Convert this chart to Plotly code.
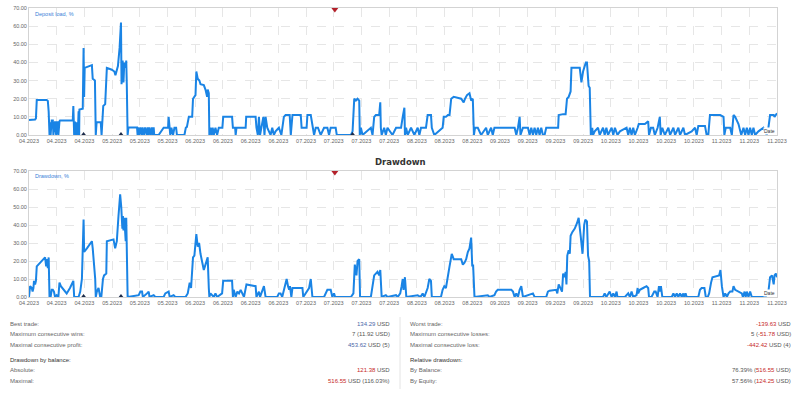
import plotly.graph_objects as go

# ---------------- data ----------------
month_labels = (["04.2023"] * 3 + ["05.2023"] * 3 + ["06.2023"] * 4 + ["07.2023"] * 4 +
                ["08.2023"] * 3 + ["09.2023"] * 4 + ["10.2023"] * 4 + ["11.2023"] * 3)
month_ticks = [i * 10 for i in range(len(month_labels))]
pct_ticks = [0, 10, 20, 30, 40, 50, 60, 70]
pct_labels = ["%.2f" % v for v in pct_ticks]

load_x = [
    0, 2.2, 2.5, 2.8, 6.4, 6.8, 7.1, 7.4, 7.6, 7.8,
    8.2, 8.6, 8.8, 9.4, 9.8, 10.0, 10.3, 10.6, 11.0, 11.2,
    15.8, 16.0, 16.3, 16.6, 17.0, 17.2, 17.6, 17.9, 18.1, 18.2,
    19.4, 19.7, 19.9, 20.1, 22.7, 23.0, 23.8, 24.1, 24.4, 25.9,
    26.2, 26.4, 26.8, 27.5, 28.1, 29.9, 30.8, 31.2, 31.6, 32.1,
    32.7, 33.2, 33.4, 33.8, 34.1, 34.4, 34.9, 35.1, 35.3, 35.6,
    35.9, 39.0, 39.2, 39.4, 39.9, 40.2, 40.8, 41.0, 41.6, 41.9,
    42.6, 42.8, 43.2, 43.4, 44.0, 44.3, 44.8, 45.0, 45.2, 46.8,
    48.6, 50.2, 50.4, 50.7, 51.0, 51.4, 52.0, 52.5, 53.1, 53.4,
    56.1, 56.6, 57.0, 57.7, 58.9, 59.2, 60.1, 60.4, 60.9, 61.5,
    61.9, 63.1, 63.7, 64.3, 64.5, 64.9, 65.1, 65.5, 65.9, 66.3,
    66.7, 67.3, 67.9, 68.5, 69.8, 70.1, 73.3, 73.6, 74.4, 74.6,
    74.9, 78.2, 78.4, 81.8, 82.1, 82.6, 83.0, 83.4, 83.8, 84.6,
    85.0, 85.4, 86.0, 87.2, 87.8, 88.4, 89.0, 90.2, 91.1, 91.4,
    92.0, 92.6, 94.1, 94.5, 95.1, 98.1, 98.4, 100.2, 100.5, 101.7,
    102.3, 102.9, 103.5, 104.3, 105.3, 106.5, 107.7, 108.3, 108.9, 110.7,
    111.1, 116.2, 116.8, 117.4, 118.0, 118.6, 119.2, 119.4, 119.8, 120.4,
    123.4, 124.0, 124.6, 125.2, 126.4, 126.8, 127.0, 127.3, 128.2, 128.8,
    129.4, 131.2, 132.5, 134.3, 134.9, 135.5, 135.7, 136.1, 136.7, 137.9,
    139.1, 140.3, 140.9, 141.5, 143.3, 143.9, 145.1, 145.4, 146.3, 149.3,
    149.7, 150.5, 151.2, 151.8, 152.4, 153.3, 156.0, 156.9, 157.4, 158.1,
    159.0, 159.6, 160.2, 160.6, 161.0, 162.0, 163.2, 165.0, 165.6, 166.8,
    167.4, 168.0, 175.3, 175.9, 176.5, 177.1, 177.4, 178.3, 180.1, 180.7,
    181.3, 181.9, 182.5, 183.1, 183.7, 184.3, 184.9, 185.5, 186.1, 186.7,
    191.0, 191.2, 192.8, 193.7, 194.2, 194.8, 195.5, 195.8, 198.8, 199.4,
    200.0, 201.0, 201.4, 201.8, 202.0, 202.4, 202.8, 203.3, 203.6, 204.2,
    205.4, 206.0, 207.2, 207.8, 208.4, 209.0, 210.3, 210.9, 211.5, 212.4,
    213.3, 215.7, 216.3, 216.9, 217.5, 218.1, 218.7, 219.7, 220.1, 222.3,
    223.5, 223.8, 224.5, 225.3, 225.9, 226.9, 227.7, 228.0, 228.6, 229.5,
    230.8, 231.4, 232.6, 233.2, 234.4, 235.0, 236.2, 236.8, 239.2, 240.4,
    241.0, 241.6, 244.0, 244.6, 245.2, 245.8, 249.5, 250.7, 251.0, 251.5,
    253.1, 253.7, 254.3, 254.9, 256.1, 257.1, 257.9, 258.5, 259.1, 259.7,
    260.3, 260.9, 261.5, 262.1, 263.3, 265.1, 266.3, 266.9, 267.5, 268.8,
    269.1, 270,
]
load_y = [
    8.3, 8.5, 9.2, 19.3, 19.3, 18.8, 12.9, 0, 7, 0,
    8, 8, 0, 7.5, 0, 7, 7, 0, 7.5, 8,
    8, 16, 0, 7.4, 0, 7, 0, 13, 0, 14,
    14.5, 48, 21, 37, 38.5, 31, 30, 0, 7, 7,
    0, 7, 16, 17, 37, 36, 35, 33, 36, 38,
    48, 62, 28, 41, 29, 40, 37, 41, 28, 0,
    4.2, 4.2, 0, 4.2, 0, 4.2, 0, 4.2, 0, 4.2,
    0, 4.2, 0, 4.2, 0, 4.2, 0, 4.2, 0, 0,
    4, 4, 10, 4, 0, 4, 0, 4, 4, 0,
    0, 4, 4.5, 10, 10, 20, 22, 35, 31, 30,
    28, 27.5, 25, 21, 25, 23, 0, 4, 0, 4,
    0, 4, 0, 4, 4, 10, 10, 4, 4, 0,
    4, 4, 10, 10, 4, 0, 10, 0, 4, 10,
    0, 10, 4, 0, 4, 0, 2, 4, 0, 4,
    10, 11, 11, 0, 11, 11, 4, 4, 11, 11,
    4, 0, 4, 4, 0, 4, 4, 0, 4, 4,
    0, 0, 2, 20, 19, 20, 19, 0, 4, 0,
    4, 0, 10, 11, 11, 18, 4, 0, 4, 0,
    4, 0, 4, 4, 10, 15, 0, 4, 0, 4,
    0, 4, 0, 4, 4, 11, 11, 4, 0, 4,
    10, 10, 11, 11, 20, 21, 20, 18, 20, 22,
    23, 19, 20, 0, 4, 4, 0, 4, 0, 4,
    0, 4, 4, 0, 4, 10, 0, 4, 4, 0,
    4, 0, 4, 0, 4, 0, 4, 0, 0, 4,
    4, 11, 11.5, 11.5, 20, 21, 24, 37, 37, 29,
    35, 40, 40, 29, 27, 26, 0, 4, 0, 2,
    4, 0, 4, 0, 4, 0, 4, 0, 4, 0,
    2, 4, 0, 4, 0, 4, 0, 4, 6, 6,
    7.5, 0, 4, 4, 0, 4, 10, 0, 4, 0,
    4, 0, 4, 0, 4, 0, 4, 0, 2, 4,
    0, 5, 5, 0, 0, 11, 11, 10, 0, 4,
    4, 0, 11, 10, 6, 0, 4, 0, 4, 0,
    4, 0, 4, 0, 2, 4, 0, 4, 11, 11,
    10, 12,
]

dd_x = [
    0, 0.4, 1.0, 1.3, 1.6, 1.8, 2.2, 2.5, 2.8, 4.0,
    5.2, 5.8, 6.2, 6.4, 6.8, 7.1, 7.4, 7.6, 7.8, 8.2,
    8.6, 9.0, 9.4, 10.0, 10.6, 11.0, 11.5, 12.4, 13.6, 14.8,
    16.0, 16.3, 17.9, 18.5, 19.1, 19.7, 19.9, 20.9, 22.7, 23.0,
    23.9, 24.1, 24.5, 25.1, 25.7, 26.1, 26.7, 27.1, 27.9, 28.1,
    30.5, 31.1, 31.7, 32.3, 32.9, 33.3, 33.7, 33.9, 34.1, 34.4,
    34.6, 34.9, 35.1, 35.3, 35.6, 39.6, 40.2, 40.8, 41.1, 42.6,
    43.2, 43.5, 45.0, 45.6, 48.6, 49.2, 50.4, 50.8, 52.2, 52.8,
    56.5, 57.3, 58.0, 58.5, 59.2, 59.7, 60.4, 60.9, 61.4, 61.9,
    62.5, 63.1, 63.7, 64.5, 64.9, 65.1, 65.5, 66.7, 67.3, 67.9,
    69.7, 70.1, 73.3, 73.6, 73.9, 74.6, 75.2, 75.8, 76.4, 77.0,
    77.6, 78.5, 81.8, 82.1, 83.0, 83.4, 84.8, 85.4, 89.6, 90.2,
    90.8, 91.4, 92.3, 93.0, 93.5, 93.9, 94.2, 94.7, 95.1, 98.7,
    99.0, 99.9, 101.1, 101.7, 102.3, 106.5, 107.1, 107.7, 108.9, 109.5,
    110.1, 110.5, 116.2, 117.1, 117.6, 118.2, 118.6, 119.2, 119.5, 123.4,
    124.6, 125.8, 126.4, 126.8, 127.3, 128.8, 129.4, 132.5, 133.1, 134.0,
    134.5, 134.9, 135.2, 135.7, 136.2, 140.3, 141.3, 142.1, 142.7, 143.3,
    143.9, 144.5, 145.1, 145.4, 148.7, 149.3, 149.9, 150.5, 151.2, 151.8,
    152.6, 153.3, 156.0, 156.6, 157.2, 157.8, 158.4, 159.0, 159.6, 160.0,
    160.3, 160.8, 165.6, 166.2, 168.0, 168.6, 169.2, 174.1, 174.7, 175.3,
    175.9, 176.5, 177.1, 177.7, 178.3, 181.9, 182.5, 186.7, 187.3, 187.9,
    190.3, 190.7, 191.2, 191.9, 192.4, 192.8, 193.4, 193.7, 194.0, 194.3,
    194.8, 195.2, 195.5, 196.1, 197.0, 197.8, 198.4, 199.2, 199.8, 200.4,
    200.8, 201.4, 201.8, 202.2, 202.5, 207.2, 207.8, 208.4, 209.6, 210.3,
    210.9, 211.5, 212.1, 212.4, 215.1, 216.3, 216.9, 217.5, 218.1, 219.3,
    219.7, 219.9, 220.5, 221.7, 222.9, 223.5, 223.8, 224.7, 225.7, 226.2,
    226.9, 227.4, 227.7, 228.1, 228.6, 232.0, 232.6, 233.2, 233.8, 234.4,
    235.0, 235.6, 236.2, 236.5, 237.0, 237.4, 241.6, 242.2, 242.8, 243.8,
    244.3, 245.0, 245.5, 246.2, 246.7, 249.1, 249.6, 250.1, 250.7, 251.3,
    251.9, 252.5, 253.1, 253.9, 254.3, 254.9, 256.1, 257.3, 257.7, 258.3,
    258.7, 259.1, 259.7, 260.3, 260.9, 265.7, 266.3, 266.9, 267.5, 268.2,
    268.8, 269.1, 269.6, 270,
]
dd_y = [
    0, 6, 5, 3, 5, 9, 7, 9, 17, 19,
    21, 22, 17, 21, 16, 22, 0, 1, 0, 4,
    4, 3, 0, 1, 0, 8, 6, 4, 2, 5,
    9, 0, 0, 3, 10, 43, 25, 27, 31, 27,
    10, 0, 3, 5, 0, 0, 10, 12, 13, 31,
    32, 27, 31, 45, 57, 50, 38, 45, 37, 44,
    33, 31, 44, 10, 0, 1, 3, 3, 0, 2,
    3, 0, 1, 0, 0, 2, 3, 0, 1, 0,
    0, 2, 8, 5, 22, 23, 35, 28, 30, 24,
    20, 15, 18, 22, 5, 0, 2, 0, 2, 0,
    2, 9, 9, 0, 4, 0, 3, 2, 4, 2,
    0, 7, 6, 0, 3, 0, 6, 0, 0, 2,
    2, 0, 6, 10, 6, 4, 6, 0, 5, 5,
    0, 2, 5, 10, 0, 0, 2, 4, 4, 0,
    2, 0, 0, 2, 18, 12, 20, 21, 0, 0,
    12, 14, 12, 15, 0, 1, 0, 1, 0, 2,
    6, 10, 4, 11, 0, 1, 0, 2, 0, 3,
    5, 10, 9, 0, 0, 4, 6, 5, 13, 17,
    24, 21, 21, 18, 19, 21, 25, 27, 33, 17,
    18, 0, 1, 0, 1, 3, 4, 4, 3, 0,
    2, 0, 4, 6, 0, 2, 0, 0, 3, 3.5,
    4, 2, 7, 5, 3, 13, 11, 14, 7, 23,
    26, 24, 34, 36, 38, 41, 44, 33, 24, 40,
    43, 42, 23, 20, 0, 0, 2, 0, 3, 0,
    2, 0, 3, 0, 0, 2, 0, 3, 0, 1,
    5, 2, 4, 5, 6, 5, 0, 0, 3, 3,
    0, 6, 3, 6, 0, 0, 2, 0, 2, 0,
    2, 0, 2, 0, 2, 0, 0, 4, 5, 5,
    0, 0, 2, 8, 11, 12, 15, 6, 0, 2,
    0, 2, 3, 3, 6, 4, 3, 2, 0, 3,
    0, 3, 0, 3, 0, 0, 1, 3, 11, 12,
    7, 12, 13, 11,
]

event_x = [110.4]          # red marker on top border
deal_x_top = [19.7, 33.2, 116.8]
deal_x_bottom = [19.7, 33.2]

stats_left = [
    ("Best trade:", '<span style="color:#4a67a8">134.29</span> USD'),
    ("Maximum consecutive wins:", "7 (11.92 USD)"),
    ("Maximal consecutive profit:", '<span style="color:#4a67a8">453.62</span> USD (5)'),
    ("<b>Drawdown by balance:</b>", ""),
    ("Absolute:", '<span style="color:#c62828">121.38</span> USD'),
    ("Maximal:", '<span style="color:#c62828">516.55</span> USD (116.03%)'),
]
stats_right = [
    ("Worst trade:", '<span style="color:#c62828">-139.63</span> USD'),
    ("Maximum consecutive losses:", '5 (<span style="color:#c62828">-51.78</span> USD)'),
    ("Maximal consecutive loss:", '<span style="color:#c62828">-442.42</span> USD (4)'),
    ("<b>Relative drawdown:</b>", ""),
    ("By Balance:", '76.39% (<span style="color:#c62828">516.55</span> USD)'),
    ("By Equity:", '57.56% (<span style="color:#c62828">124.25</span> USD)'),
]

if len(load_x) != len(load_y) or len(dd_x) != len(dd_y):
    raise SystemExit("length mismatch %d %d %d %d" % (len(load_x), len(load_y), len(dd_x), len(dd_y)))

# ---------------- layout helpers ----------------
W, H = 800, 394
BLUE = "#1a84e5"
GRID = "#e6e6e6"
FONT = "Liberation Sans, Arial, sans-serif"


def fx(p):
    return p / W


def fy(p):
    return 1 - p / H


fig = go.Figure()

fig.add_trace(go.Scatter(x=load_x, y=load_y, mode="lines", xaxis="x", yaxis="y",
                         line=dict(color=BLUE, width=2), hoverinfo="skip"))
fig.add_trace(go.Scatter(x=dd_x, y=dd_y, mode="lines", xaxis="x2", yaxis="y2",
                         line=dict(color=BLUE, width=2), hoverinfo="skip"))

# markers
fig.add_trace(go.Scatter(x=event_x, y=[69.2], mode="markers", xaxis="x", yaxis="y", cliponaxis=False,
                         marker=dict(symbol="triangle-down", size=6, color="#b3202a")))
fig.add_trace(go.Scatter(x=event_x, y=[69.2], mode="markers", xaxis="x2", yaxis="y2", cliponaxis=False,
                         marker=dict(symbol="triangle-down", size=6, color="#b3202a")))
fig.add_trace(go.Scatter(x=deal_x_top, y=[0.6] * len(deal_x_top), mode="markers", xaxis="x", yaxis="y",
                         cliponaxis=False, marker=dict(symbol="triangle-up", size=4, color="#1c2b4a")))
fig.add_trace(go.Scatter(x=deal_x_bottom, y=[0.6] * len(deal_x_bottom), mode="markers", xaxis="x2",
                         yaxis="y2", cliponaxis=False,
                         marker=dict(symbol="triangle-up", size=4, color="#1c2b4a")))

xcommon = dict(range=[0, 270], tickmode="array", tickvals=month_ticks, ticktext=month_labels,
               showgrid=True, gridcolor=GRID, griddash="dash", gridwidth=1,
               showline=True, linecolor="#d3d3d3", linewidth=1, mirror=True, automargin=False,
               ticks="", zeroline=False, tickfont=dict(size=5.5, color="#666", family=FONT),
               fixedrange=True)
ycommon = dict(range=[0, 70], tickmode="array", tickvals=pct_ticks, ticktext=pct_labels,
               showgrid=True, gridcolor=GRID, griddash="dash", gridwidth=1,
               showline=True, linecolor="#d3d3d3", linewidth=1, mirror=True, automargin=False,
               ticks="", zeroline=False, tickfont=dict(size=5.5, color="#666", family=FONT),
               fixedrange=True)

fig.update_layout(
    width=W, height=H, margin=dict(l=0, r=0, t=0, b=0, pad=0), autosize=False,
    paper_bgcolor="white", plot_bgcolor="white", showlegend=False,
    font=dict(family=FONT, size=6, color="#555"),
    xaxis=dict(domain=[fx(29), fx(777)], anchor="y", **xcommon),
    yaxis=dict(domain=[fy(135), fy(8)], anchor="x", **ycommon),
    xaxis2=dict(domain=[fx(29), fx(777)], anchor="y2", **xcommon),
    yaxis2=dict(domain=[fy(297), fy(171)], anchor="x2", **ycommon),
)

ann = []
# series captions
ann.append(dict(text="Deposit load, %", x=fx(33), y=fy(14), xref="paper", yref="paper",
                xanchor="left", yanchor="middle", showarrow=False,
                font=dict(size=5.5, color="#3a7fd8", family=FONT)))
ann.append(dict(text="Drawdown, %", x=fx(33), y=fy(176), xref="paper", yref="paper",
                xanchor="left", yanchor="middle", showarrow=False,
                font=dict(size=5.5, color="#3a7fd8", family=FONT)))
for yy in (131, 293):
    ann.append(dict(text="Date", x=fx(776), y=fy(yy), xref="paper", yref="paper",
                    xanchor="right", yanchor="middle", showarrow=False, bgcolor="white",
                    borderpad=0, font=dict(size=5, color="#333", family=FONT)))
# title
ann.append(dict(text="<b>Drawdown</b>", x=fx(400), y=fy(162), xref="paper", yref="paper",
                xanchor="center", yanchor="middle", showarrow=False,
                font=dict(size=8.5, color="#333", family="DejaVu Sans, sans-serif")))

rows_y = [324, 334, 344.5, 360, 370, 381]
for (lab, val), yy in zip(stats_left, rows_y):
    head = lab.startswith("<b>")
    ann.append(dict(text=lab.replace("<b>", "").replace("</b>", ""), x=fx(8), y=fy(yy),
                    xref="paper", yref="paper", xanchor="left", yanchor="middle", showarrow=False,
                    font=dict(size=6, color="#333" if head else "#666", family=FONT)))
    if val:
        ann.append(dict(text=val, x=fx(392), y=fy(yy), xref="paper", yref="paper",
                        xanchor="right", yanchor="middle", showarrow=False,
                        font=dict(size=6, color="#555", family=FONT)))
for (lab, val), yy in zip(stats_right, rows_y):
    head = lab.startswith("<b>")
    ann.append(dict(text=lab.replace("<b>", "").replace("</b>", ""), x=fx(408), y=fy(yy),
                    xref="paper", yref="paper", xanchor="left", yanchor="middle", showarrow=False,
                    font=dict(size=6, color="#333" if head else "#666", family=FONT)))
    if val:
        ann.append(dict(text=val, x=fx(793), y=fy(yy), xref="paper", yref="paper",
                        xanchor="right", yanchor="middle", showarrow=False,
                        font=dict(size=6, color="#555", family=FONT)))

fig.update_layout(annotations=ann)
fig.add_shape(type="line", xref="paper", yref="paper", x0=fx(400), x1=fx(400), y0=fy(317), y1=fy(389),
              line=dict(color="#e4e4e4", width=1))

fig.write_html("out.html", config={"displayModeBar": False, "responsive": False},
               post_script="document.body.style.margin='0';")
